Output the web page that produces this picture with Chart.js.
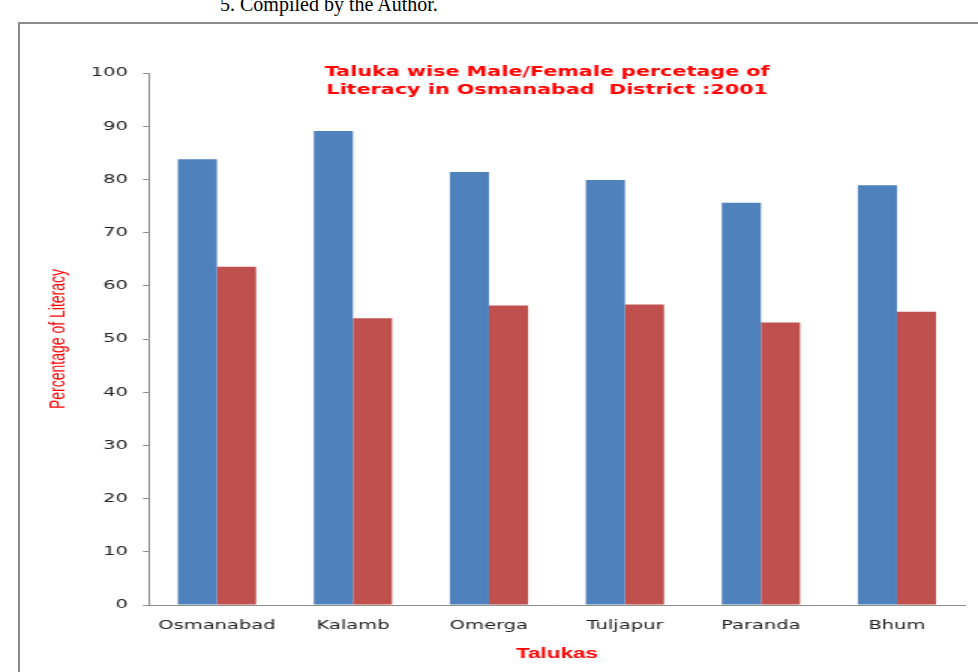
<!DOCTYPE html>
<html><head><meta charset="utf-8">
<script src="https://cdn.jsdelivr.net/npm/chart.js@4/dist/chart.umd.min.js"></script>
<style>
html,body{margin:0;padding:0;width:978px;height:672px;overflow:hidden;background:#fff;}
#frame{position:absolute;left:18px;top:22px;width:1000px;height:700px;border-left:2px solid #8c8c8c;border-top:2px solid #8c8c8c;}
#note{position:absolute;left:220px;top:-6px;font:20px "Liberation Serif","Times New Roman",serif;color:#000;white-space:nowrap;line-height:20px;}
#c{position:absolute;left:0;top:0;transform:scaleX(1.5);transform-origin:0 0;}
</style></head><body>
<div id="frame"></div>
<div id="note">5. Compiled by the Author.</div>
<canvas id="c" width="652" height="672"></canvas>
<script>
const categories = ['Osmanabad', 'Kalamb', 'Omerga', 'Tuljapur', 'Paranda', 'Bhum'];
const maleLiteracy = [83.8, 89.1, 81.4, 79.9, 75.6, 78.9];
const femaleLiteracy = [63.6, 53.9, 56.3, 56.5, 53.1, 55.1];
const yTickMin = 0, yTickMax = 100, yTickStep = 10;
const titleLines = ['Taluka wise Male/Female percetage of', 'Literacy in Osmanabad  District :2001'];
const xAxisTitle = 'Talukas';
const yAxisTitle = 'Percentage of Literacy';

const innerTitle = {
  id: 'innerTitle',
  afterDraw(chart) {
    const ctx = chart.ctx;
    const a = chart.chartArea;
    ctx.save();
    ctx.font = 'bold 13.8px "DejaVu Sans", Verdana, sans-serif';
    ctx.fillStyle = '#FF0000';
    ctx.textAlign = 'center';
    ctx.textBaseline = 'middle';
    const cx = a.left + (a.right - a.left) * 0.488;
    ctx.fillText(titleLines[0], cx, a.top - 1);
    ctx.fillText(titleLines[1], cx, a.top + 17);
    ctx.restore();
  }
};

new Chart(document.getElementById('c'), {
  type: 'bar',
  data: {
    labels: categories,
    datasets: [
      { label: 'Male', data: maleLiteracy, backgroundColor: '#4F81BD', borderWidth: 0 },
      { label: 'Female', data: femaleLiteracy, backgroundColor: '#C0504D', borderWidth: 0 }
    ]
  },
  options: {
    responsive: false,
    devicePixelRatio: 1,
    animation: false,
    layout: { padding: { top: 73, right: 8.7, left: 0, bottom: 0 } },
    plugins: { legend: { display: false }, tooltip: { enabled: false }, title: { display: false } },
    datasets: { bar: { categoryPercentage: 0.575, barPercentage: 1.0 } },
    scales: {
      x: {
        grid: { drawOnChartArea: false, drawTicks: false },
        border: { color: '#8c8c8c', width: 1 },
        ticks: { color: '#222', padding: 13, font: { family: '"DejaVu Sans", Verdana, sans-serif', size: 13 }, autoSkip: false, maxRotation: 0 },
        title: { display: true, text: xAxisTitle, color: '#FF0000', padding: { top: 0, bottom: 9 }, font: { family: '"Liberation Sans", Arial, sans-serif', size: 15, weight: 'bold' } },
        afterFit(s) { s.height = 67; }
      },
      y: {
        min: yTickMin, max: yTickMax,
        grid: { drawOnChartArea: false, drawTicks: true, tickLength: 4, color: '#8c8c8c' },
        border: { color: '#8c8c8c', width: 1 },
        ticks: { stepSize: yTickStep, color: '#222', padding: 10, font: { family: '"DejaVu Sans", Verdana, sans-serif', size: 13 } },
        title: { display: true, text: yAxisTitle, color: '#FF0000', padding: { top: 31, bottom: 0 }, font: { family: '"Liberation Sans", Arial, sans-serif', size: 14 } },
        afterFit(s) { s.width = 99.3; }
      }
    }
  },
  plugins: [innerTitle]
});
</script>
</body></html>
